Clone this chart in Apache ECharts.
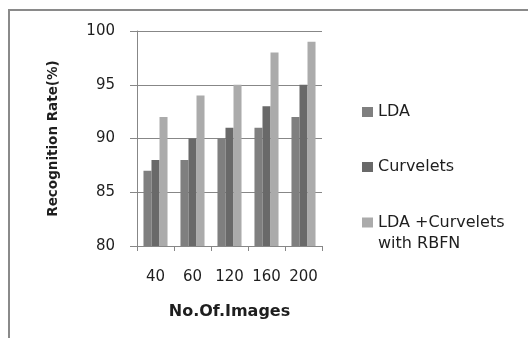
<!DOCTYPE html>
<html>
<head>
<meta charset="utf-8">
<script src="https://cdn.jsdelivr.net/npm/echarts@6/dist/echarts.min.js"></script>
<style>
  html, body { margin: 0; padding: 0; background: #fff; }
  #chart { width: 528px; height: 338px; }
</style>
</head>
<body>
<div id="chart"></div>
<script>
// Recognition rate by number of training images
const categories = ['40', '60', '120', '160', '200'];
const ldaValues = [87, 88, 90, 91, 92];
const curveletValues = [88, 90, 91, 93, 95];
const combinedValues = [92, 94, 95, 98, 99];
const seriesNames = ['LDA', 'Curvelets', 'LDA +Curvelets with RBFN'];
const yTicks = { min: 80, max: 100, step: 5 };

const FONT = 'DejaVu Sans';
const AXIS_GRAY = '#878787';
const TEXT = '#1e1e1e';

const chart = echarts.init(document.getElementById('chart'), null, { renderer: 'canvas' });

chart.setOption({
  animation: false,
  backgroundColor: '#ffffff',
  textStyle: { fontFamily: FONT },
  grid: { left: 137, top: 31, right: 206, bottom: 92, containLabel: false },
  legend: [
    {
      data: [seriesNames[0], seriesNames[1]],
      orient: 'vertical',
      left: 362, top: 102,
      padding: 0,
      itemWidth: 11, itemHeight: 10, itemGap: 35,
      icon: 'rect',
      textStyle: { fontFamily: FONT, fontSize: 16, color: TEXT, lineHeight: 20 }
    },
    {
      data: [seriesNames[2]],
      orient: 'vertical',
      left: 362, top: 191,
      padding: 0,
      itemWidth: 11, itemHeight: 10,
      icon: 'rect',
      // a blank leading line keeps the swatch level with the first text line
      formatter: function () { return '\u00a0\nLDA +Curvelets\nwith RBFN'; },
      textStyle: { fontFamily: FONT, fontSize: 16, color: TEXT, lineHeight: 21 }
    }
  ],
  xAxis: {
    type: 'category',
    data: categories,
    boundaryGap: true,
    name: 'No.Of.Images',
    nameLocation: 'middle',
    nameGap: 58,
    nameTextStyle: { fontFamily: FONT, fontSize: 16, fontWeight: 'bold', color: TEXT },
    axisLine: { lineStyle: { color: AXIS_GRAY, width: 1 } },
    axisTick: { show: true, length: 5, lineStyle: { color: AXIS_GRAY } },
    axisLabel: { margin: 24, fontFamily: FONT, fontSize: 15, color: TEXT, interval: 0 },
    splitLine: { show: false }
  },
  yAxis: {
    type: 'value',
    min: yTicks.min, max: yTicks.max, interval: yTicks.step,
    name: 'Recognition Rate(%)',
    nameLocation: 'middle',
    nameGap: 77,
    nameTextStyle: { fontFamily: FONT, fontSize: 13.5, fontWeight: 'bold', color: TEXT },
    axisLine: { show: true, lineStyle: { color: AXIS_GRAY, width: 1 } },
    axisTick: { show: true, length: 7, lineStyle: { color: AXIS_GRAY } },
    axisLabel: { margin: 22, fontFamily: FONT, fontSize: 15, color: TEXT },
    splitLine: { show: true, lineStyle: { color: AXIS_GRAY, width: 1 } }
  },
  series: [
    { name: seriesNames[0], type: 'bar', data: ldaValues, itemStyle: { color: '#7f7f7f' }, barGap: '0%', barCategoryGap: '35%' },
    { name: seriesNames[1], type: 'bar', data: curveletValues, itemStyle: { color: '#696969' }, barGap: '0%', barCategoryGap: '35%' },
    { name: seriesNames[2], type: 'bar', data: combinedValues, itemStyle: { color: '#ababab' }, barGap: '0%', barCategoryGap: '35%' }
  ],
  graphic: [
    {
      type: 'polyline',
      silent: true,
      shape: { points: [[9, 338], [9, 10], [528, 10]] },
      style: { stroke: '#8a8a8a', lineWidth: 2, fill: null }
    }
  ]
});
</script>
</body>
</html>
